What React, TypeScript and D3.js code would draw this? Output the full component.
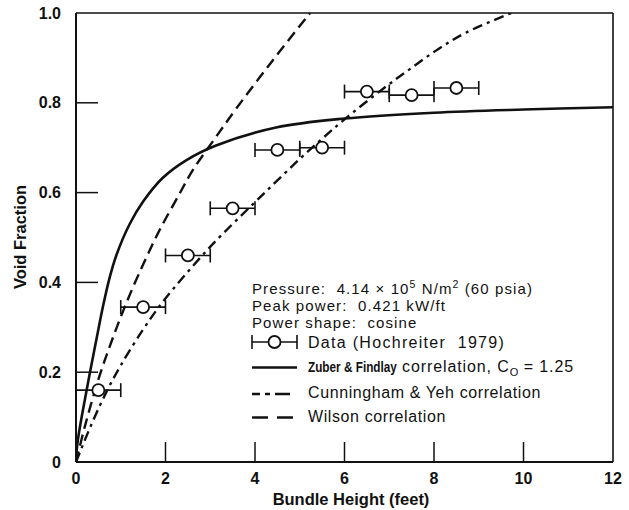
import React from "react";
import * as d3 from "d3";

const dataX = [0.5, 1.5, 2.5, 3.5, 4.5, 5.5, 6.5, 7.5, 8.5];
const dataY = [0.16, 0.345, 0.46, 0.565, 0.695, 0.7, 0.825, 0.817, 0.833];
const dataErr = [0.5, 0.5, 0.5, 0.5, 0.5, 0.5, 0.5, 0.5, 0.5];

const zuberX = [0, 0.03, 0.1, 0.2, 0.3, 0.45, 0.6, 0.75, 0.9, 1.2, 1.5, 1.94, 2.46, 3.13, 4.47, 6.0, 8.0, 10.0, 12.0];
const zuberY = [0, 0.04, 0.085, 0.14, 0.193, 0.27, 0.345, 0.41, 0.46, 0.53, 0.58, 0.633, 0.672, 0.705, 0.745, 0.765, 0.778, 0.785, 0.79];

const cunX = [0, 0.35, 0.7, 1.0, 1.5, 1.95, 2.96, 3.96, 4.5, 5.0, 5.5, 6.0, 6.87, 7.46, 8.1, 8.73, 9.73];
const cunY = [0, 0.085, 0.16, 0.215, 0.295, 0.358, 0.475, 0.575, 0.627, 0.675, 0.72, 0.763, 0.832, 0.875, 0.92, 0.957, 1.0];

const wilX = [0, 0.2, 0.52, 0.8, 1.12, 1.5, 1.86, 2.3, 2.61, 3.1, 3.58, 4.4, 5.23];
const wilY = [0, 0.08, 0.19, 0.27, 0.353, 0.44, 0.515, 0.595, 0.65, 0.72, 0.787, 0.895, 1.0];

const xTicks = [0, 2, 4, 6, 8, 10, 12];
const yTicks = [0, 0.2, 0.4, 0.6, 0.8, 1.0];
const yTickLabels = ["0", "0.2", "0.4", "0.6", "0.8", "1.0"];

const FONT = "'Liberation Sans', Arial, Helvetica, sans-serif";

export default function App() {
  const x = d3.scaleLinear().domain([0, 12]).range([76, 613]);
  const y = d3.scaleLinear().domain([0, 1]).range([462, 13]);

  const line = d3
    .line<[number, number]>()
    .x((d) => x(d[0]))
    .y((d) => y(d[1]))
    .curve(d3.curveCatmullRom.alpha(0.5));

  const zuber = line(zuberX.map((v, i) => [v, zuberY[i]] as [number, number])) || "";
  const cun = line(cunX.map((v, i) => [v, cunY[i]] as [number, number])) || "";
  const wil = line(wilX.map((v, i) => [v, wilY[i]] as [number, number])) || "";

  const lx0 = 252;
  const lx1 = 297;
  const ltx = 308;

  return (
    <svg
      width={629}
      height={510}
      style={{ position: "absolute", left: 0, top: 0, background: "#fff" }}
      fontFamily={FONT}
    >
      <rect x={0} y={0} width={629} height={510} fill="#fff" />
      <defs>
        <clipPath id="plot">
          <rect x={x(0)} y={y(1)} width={x(12) - x(0)} height={y(0) - y(1)} />
        </clipPath>
      </defs>

      {/* frame */}
      <line x1={x(0)} x2={x(12)} y1={y(1)} y2={y(1)} stroke="#111" strokeWidth={1.6} />
      <line x1={x(12)} x2={x(12)} y1={y(1)} y2={y(0)} stroke="#111" strokeWidth={1.6} />
      <line x1={x(0)} x2={x(12)} y1={y(0)} y2={y(0)} stroke="#111" strokeWidth={2} />
      <line x1={x(0)} x2={x(0)} y1={y(1)} y2={y(0)} stroke="#111" strokeWidth={2} />

      {/* y ticks */}
      {yTicks.map((t, i) => (
        <g key={"yt" + i}>
          {t > 0 && t < 1 && (
            <line x1={x(0)} x2={x(0) + 22} y1={y(t)} y2={y(t)} stroke="#111" strokeWidth={1.5} />
          )}
          <text
            x={61}
            y={y(t)}
            dy="0.35em"
            textAnchor="end"
            fontSize={16}
            fontWeight="bold"
            fill="#111"
          >
            {yTickLabels[i]}
          </text>
        </g>
      ))}

      {/* x ticks */}
      {xTicks.map((t, i) => (
        <g key={"xt" + i}>
          {t > 0 && t < 12 && (
            <line x1={x(t)} x2={x(t)} y1={y(0)} y2={y(0) - 20} stroke="#111" strokeWidth={1.5} />
          )}
          <text x={x(t)} y={484} textAnchor="middle" fontSize={16} fontWeight="bold" fill="#111">
            {String(t)}
          </text>
        </g>
      ))}

      {/* axis titles */}
      <text x={351} y={505} textAnchor="middle" fontSize={16.5} fontWeight="bold" fill="#111">
        Bundle Height (feet)
      </text>
      <text
        transform={`translate(26,237) rotate(-90)`}
        textAnchor="middle"
        fontSize={16.5}
        fontWeight="bold"
        fill="#111"
      >
        Void Fraction
      </text>

      {/* curves */}
      <g clipPath="url(#plot)" fill="none" stroke="#111">
        <path d={zuber} strokeWidth={2.6} />
        <path d={cun} strokeWidth={2.4} strokeDasharray="10,5,3,5" />
        <path d={wil} strokeWidth={2.4} strokeDasharray="11,6" />
      </g>

      {/* data */}
      {dataX.map((dx, i) => {
        const cy = y(dataY[i]);
        const xl = x(dx - dataErr[i]);
        const xr = x(dx + dataErr[i]);
        return (
          <g key={"d" + i} stroke="#111" strokeWidth={1.6}>
            <line x1={xl} x2={xr} y1={cy} y2={cy} />
            <line x1={xl} x2={xl} y1={cy - 7} y2={cy + 7} />
            <line x1={xr} x2={xr} y1={cy - 7} y2={cy + 7} />
            <circle cx={x(dx)} cy={cy} r={6} fill="#fff" strokeWidth={1.8} />
          </g>
        );
      })}

      {/* legend */}
      <g fill="#111">
        <g fontSize={15} letterSpacing={1.1}>
          <text x={252} y={293.5}>
            Pressure:{"\u00a0\u00a0"}4.14 × 10
            <tspan dy={-5.5} fontSize={10.5}>5</tspan>
            <tspan dy={5.5}> N/m</tspan>
            <tspan dy={-5.5} fontSize={10.5}>2</tspan>
            <tspan dy={5.5}> (60 psia)</tspan>
          </text>
          <text x={252} y={310.5}>
            Peak power:{"\u00a0\u00a0"}0.421 kW/ft
          </text>
          <text x={252} y={327.5}>
            Power shape:{"\u00a0\u00a0"}cosine
          </text>
        </g>

        <g stroke="#111" strokeWidth={1.6}>
          <line x1={lx0} x2={lx1} y1={342} y2={342} />
          <line x1={lx0} x2={lx0} y1={335} y2={349} />
          <line x1={lx1} x2={lx1} y1={335} y2={349} />
          <circle cx={(lx0 + lx1) / 2} cy={342} r={6} fill="#fff" strokeWidth={1.8} />
        </g>

        <g fontSize={16} letterSpacing={0.6}>
          <text x={ltx} y={348} letterSpacing={1.3}>
            Data (Hochreiter{"\u00a0\u00a0"}1979)
          </text>

          <text
            transform={`translate(${ltx},372) scale(0.76,1)`}
            fontSize={15.5}
            fontWeight="bold"
            letterSpacing={0}
          >
            Zuber &amp; Findlay
          </text>
          <text x={402} y={372} letterSpacing={0.9}>
            correlation, C
            <tspan dy={4} fontSize={11} letterSpacing={0}>O</tspan>
            <tspan dy={-4}> = 1.25</tspan>
          </text>

          <text x={ltx} y={398}>Cunningham &amp; Yeh correlation</text>
          <text x={ltx} y={422}>Wilson correlation</text>
        </g>

        <line x1={lx0} x2={lx1} y1={367.5} y2={367.5} stroke="#111" strokeWidth={2.4} />
        <line x1={lx0} x2={lx1} y1={394} y2={394} stroke="#111" strokeWidth={2.4} strokeDasharray="8,5,5,5,15" />
        <line x1={lx0} x2={lx1} y1={417.5} y2={417.5} stroke="#111" strokeWidth={2.4} strokeDasharray="16,9" />
      </g>
    </svg>
  );
}
